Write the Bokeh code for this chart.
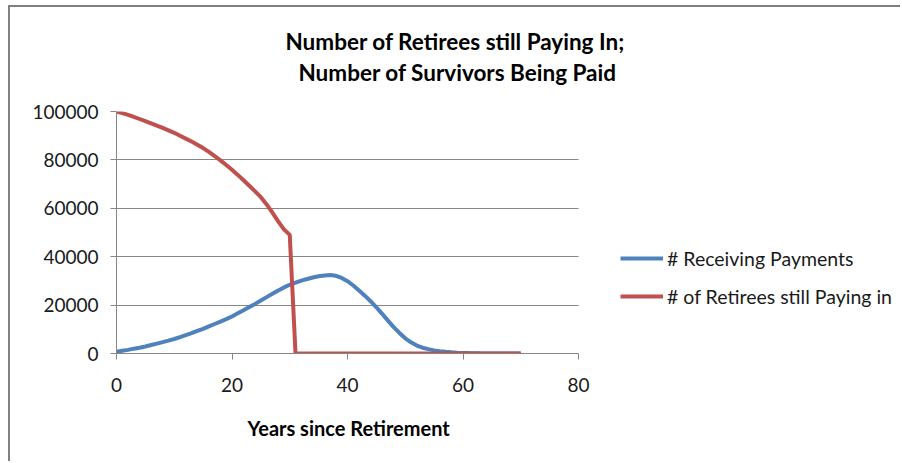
from bokeh.plotting import figure
from bokeh.models import Legend, LegendItem, Title, FixedTicker, NumeralTickFormatter
from bokeh.embed import file_html
from bokeh.resources import INLINE

# ---- data ----
years = list(range(0, 71))
receiving = [700, 1100, 1500, 2000, 2400, 2900, 3500, 4100, 4700, 5300,
             6000, 6800, 7600, 8400, 9300, 10200, 11200, 12200, 13200, 14200,
             15300, 16600, 17900, 19200, 20500, 21900, 23300, 24700, 26000, 27300,
             28400, 29300, 30100, 30800, 31400, 31900, 32200, 32400, 32100, 31200,
             29900, 28100, 26000, 23900, 21600, 19100, 16400, 13600, 10900, 8500,
             6300, 4600, 3300, 2400, 1800, 1300, 950, 700, 500, 350,
             250, 180, 120, 80, 50, 30, 20, 10, 5, 2, 1]
paying = [100000, 99300, 98600, 97800, 96900, 96000, 95100, 94200, 93200, 92200,
          91200, 90000, 88800, 87600, 86300, 84900, 83300, 81600, 79800, 77900,
          75900, 73800, 71600, 69300, 67000, 64600, 61600, 58200, 54600, 51300,
          49000] + [0] * 40
series_names = ["# Receiving Payments", "# of Retirees still Paying in"]
title_lines = ["Number of Retirees still Paying In;", "Number of Survivors Being Paid"]
x_label = "Years since Retirement"
x_ticks = [0, 20, 40, 60, 80]
y_ticks = [0, 20000, 40000, 60000, 80000, 100000]
X_MAX, Y_MAX = 80, 100000

BLUE = "#4F81BD"
RED = "#C0504D"
GRID = "#868686"
FONT = "Lato"

# page geometry: chart border at left x=8..10, top y=5..7 (drawn with CSS)
OX, OY = 10, 7
W, H = 902 - OX, 463 - OY
FL, FT, FB = 116 - OX, 111 - OY, 353 - OY      # frame edges in canvas px
PX_PER_X = 462 / X_MAX                          # 80 years span 462 px
x_end = (W - FL) / PX_PER_X                     # frame runs to the right edge

p = figure(width=W, height=H, output_backend="svg", toolbar_location=None,
           x_range=(0, x_end), y_range=(0, Y_MAX),
           min_border_left=FL, min_border_right=0,
           min_border_top=FT, min_border_bottom=H - FB)
p.styles = {"border-left": "2px solid #808080", "border-top": "2px solid #808080",
            "margin-left": "8px", "margin-top": "5px"}
p.background_fill_color = "white"
p.border_fill_color = "white"
p.outline_line_color = None

r_blue = p.line(years, receiving, line_color=BLUE, line_width=4)
r_red = p.line(years, paying, line_color=RED, line_width=4)

# axes
p.xaxis.ticker = FixedTicker(ticks=x_ticks)
p.yaxis.ticker = FixedTicker(ticks=y_ticks)
p.yaxis.formatter = NumeralTickFormatter(format="0")
p.xaxis.bounds = (0, X_MAX)
for ax in (p.xaxis[0], p.yaxis[0]):
    ax.axis_line_color = GRID
    ax.major_tick_line_color = GRID
    ax.major_tick_out = 6
    ax.major_tick_in = 0
    ax.minor_tick_line_color = None
    ax.major_label_text_font = FONT
    ax.major_label_text_font_size = "19px"
    ax.major_label_text_color = "#1a1a1a"
p.yaxis.major_label_standoff = 12
p.xaxis.major_label_standoff = 18

p.xgrid.grid_line_color = None
if "cross_bounds" in p.ygrid[0].properties():
    p.ygrid.grid_line_color = GRID
    p.ygrid.cross_bounds = (0, X_MAX)
else:
    p.ygrid.grid_line_color = None
    p.segment(x0=[0] * len(y_ticks), x1=[X_MAX] * len(y_ticks), y0=y_ticks, y1=y_ticks,
              line_color=GRID, line_width=1, level="underlay")

# title: spacer + two lines, first added sits nearest the frame
p.add_layout(Title(text=" ", text_font_size="21px", standoff=0), "above")
p.add_layout(Title(text=title_lines[1], align="left", offset=298 - 116,
                   text_font=FONT, text_font_style="bold", text_font_size="22.5px",
                   text_color="#000000", standoff=2), "above")
p.add_layout(Title(text=title_lines[0], align="left", offset=285 - 116,
                   text_font=FONT, text_font_style="bold", text_font_size="22.5px",
                   text_color="#000000", standoff=2), "above")

# x axis title, below the axis
p.add_layout(Title(text=x_label, align="left", offset=247 - 116, vertical_align="top",
                   text_font=FONT, text_font_style="bold", text_font_size="20px",
                   text_color="#000000", standoff=42), "below")

legend = Legend(items=[LegendItem(label=series_names[0], renderers=[r_blue]),
                       LegendItem(label=series_names[1], renderers=[r_red])],
                location=(504, 45))
legend.glyph_width = 43
legend.glyph_height = 24
legend.label_height = 24
legend.label_standoff = 4
legend.spacing = 14
legend.padding = 0
legend.margin = 0
legend.border_line_color = None
legend.background_fill_alpha = 0
legend.label_text_font = FONT
legend.label_text_font_size = "19.5px"
legend.label_text_color = "#1a1a1a"
p.add_layout(legend)

open("out.html", "w").write(file_html(p, INLINE))
